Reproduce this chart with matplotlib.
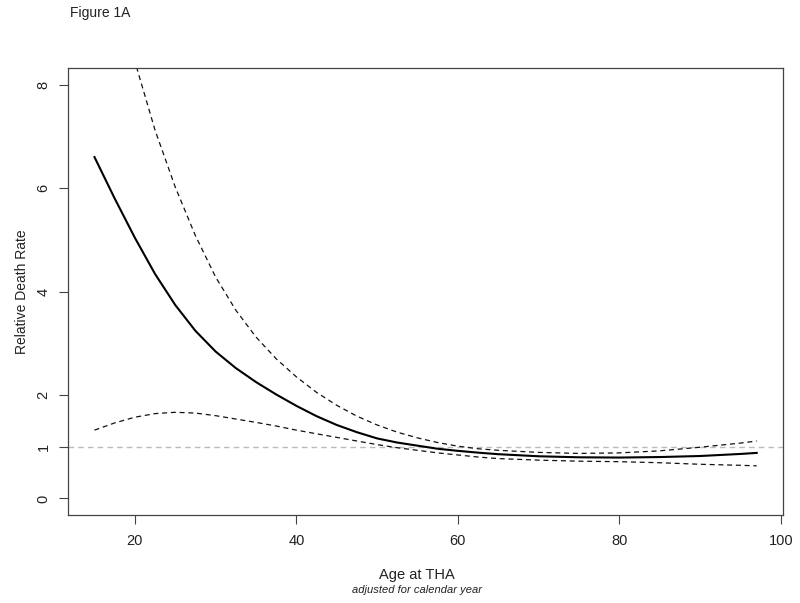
import matplotlib
matplotlib.use("Agg")
import matplotlib.pyplot as plt
import numpy as np

plt.rcParams['font.family'] = ['Liberation Sans', 'DejaVu Sans']

age = [15, 17.5, 20, 22.5, 25, 27.5, 30, 32.5, 35, 37.5, 40, 42.5, 45, 47.5, 50,
       52.5, 55, 57.5, 60, 62.5, 65, 70, 75, 80, 85, 90, 95, 97]
rate = [6.60, 5.80, 5.04, 4.34, 3.74, 3.24, 2.84, 2.52, 2.25, 2.01, 1.79, 1.59, 1.42,
        1.28, 1.16, 1.08, 1.02, 0.96, 0.92, 0.885, 0.855, 0.815, 0.795, 0.79, 0.80,
        0.82, 0.86, 0.88]
lower = [1.32, 1.46, 1.57, 1.64, 1.665, 1.65, 1.60, 1.535, 1.47, 1.40, 1.32, 1.25,
         1.18, 1.11, 1.04, 0.98, 0.93, 0.88, 0.84, 0.80, 0.77, 0.74, 0.72, 0.71, 0.69,
         0.66, 0.64, 0.63]
upper = [11.65, 10.0, 8.45, 7.12, 6.02, 5.08, 4.28, 3.64, 3.12, 2.70, 2.35, 2.05,
         1.80, 1.59, 1.42, 1.28, 1.17, 1.08, 1.01, 0.96, 0.93, 0.89, 0.87, 0.88, 0.92,
         0.99, 1.07, 1.11]
yticks = [0, 1, 2, 4, 6, 8]
xticks = [20, 40, 60, 80, 100]

fig = plt.figure(figsize=(8, 6.03), dpi=100)
ax = fig.add_axes([0.085, 0.146, 0.894, 0.741])

ax.axhline(1, color='#bbbbbb', lw=1, ls=(0, (4, 3)), zorder=1)
ax.plot(age, rate, color='black', lw=1.5, solid_joinstyle='round', zorder=3)
ax.plot(age, lower, color='#111111', lw=0.9, ls=(0, (4, 3)), zorder=2)
ax.plot(age, upper, color='#111111', lw=0.9, ls=(0, (4, 3)), zorder=2)

xr = max(age) - min(age)
ax.set_xlim(min(age) - 0.04 * xr, max(age) + 0.04 * xr)
ax.set_ylim(0 - 0.04 * 8, 8 + 0.04 * 8)
ax.set_xticks(xticks)
ax.set_yticks(yticks)
ax.set_yticklabels([str(v) for v in yticks], rotation=90, va='center')
ax.tick_params(axis='both', direction='out', length=6.5, width=0.8, color='#444444',
               labelsize=10.5, labelcolor='#222222')
ax.tick_params(axis='x', pad=7)
ax.tick_params(axis='y', pad=6)
for s in ax.spines.values():
    s.set_color('#444444')
    s.set_linewidth(0.9)

fig.text(0.0875, 0.978, 'Figure 1A', fontsize=10, color='#222222', ha='left', va='center')
fig.text(0.028, 0.5165, 'Relative Death Rate', fontsize=10, color='#222222',
         rotation=90, ha='center', va='center')
fig.text(0.521, 0.047, 'Age at THA', fontsize=10.5, color='#222222', ha='center', va='center')
fig.text(0.521, 0.022, 'adjusted for calendar year', fontsize=8, color='#222222',
         ha='center', va='center', style='italic')

fig.savefig('out.png', dpi=100)
